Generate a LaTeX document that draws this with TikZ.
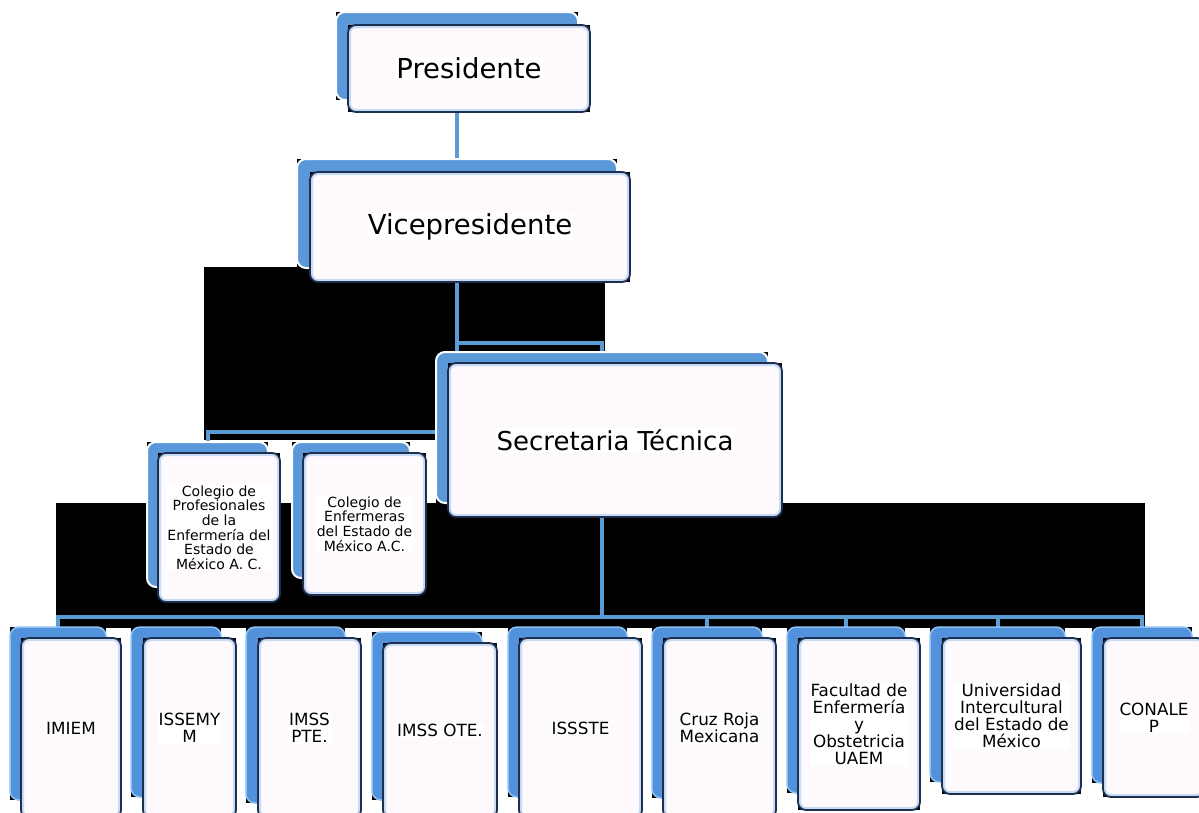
\documentclass[tikz,border=0pt]{standalone}
\usepackage{fontspec}
\setmainfont{DejaVu Sans}
\usetikzlibrary{fit}
\pgfdeclarelayer{bg}
\pgfsetlayers{bg,main}

\definecolor{orgblue}{HTML}{5B98DA}
\definecolor{linkblue}{HTML}{5B9BD5}
\definecolor{cardfill}{HTML}{FDF9FD}
\definecolor{cardedge}{HTML}{1E2F52}
\definecolor{glow}{HTML}{C6DBF4}
\definecolor{tabblue}{HTML}{5291DC}
\definecolor{tabedge}{HTML}{8CC2F4}

\newcommand{\headfont}{\fontsize{27.5}{30}\selectfont}
\newcommand{\secfont}{\fontsize{26}{29}\selectfont}
\newcommand{\colfont}{\fontsize{14}{14.6}\selectfont}
\newcommand{\tabfont}{\fontsize{16.8}{17}\selectfont}

\tikzset{
  darkrect/.style={fill=black, inner sep=0pt, outer sep=0pt},
  backcard/.style={fill=orgblue, draw=white, line width=2pt, rounded corners=9pt,
    inner sep=0pt, outer sep=0pt},
  backtab/.style={fill=tabblue, draw=tabedge, line width=1.5pt, rounded corners=9pt,
    inner sep=0pt, outer sep=0pt},
  card/.style={fill=cardfill, draw=cardedge, line width=1.8pt, rounded corners=8pt,
    inner sep=0pt, outer sep=0pt,
    path picture={\draw[glow, line width=6pt]
      (path picture bounding box.south west) rectangle (path picture bounding box.north east);}},
  lbl/.style={fill=white, inner sep=1pt, align=center, text=black},
  link/.style={draw=linkblue, line width=4pt},
}

% #1 name, #2 style of the rear card, #3 rear corners, #4 front corners, #5 font, #6 text
\newcommand{\orgcard}[6]{%
  \node[darkrect, fit={#3}] (#1-bs) {};
  \node[#2, fit={#3}] (#1-back) {};
  \node[darkrect, fit={#4}] (#1-fs) {};
  \node[card, fit={#4}] (#1) {};
  \node[lbl, font=#5] (#1-txt) at (#1.center) {#6};
}

\begin{document}
\begin{tikzpicture}[x=1pt, y=-1pt]
  \useasboundingbox (0,0) rectangle (1199,812);
  \clip (0,0) rectangle (1199,812);

  % upper levels
  \orgcard{pres}{backcard}{(336,12) (578,100)}{(348,25) (590,112)}{\headfont}{Presidente}
  \orgcard{vice}{backcard}{(297,159) (617,268)}{(310,172) (630,282)}{\headfont}{Vicepresidente}
  \orgcard{sec}{backcard}{(436,352) (768,503)}{(448,363) (782,517)}{\secfont}{Secretaria Técnica}
  \orgcard{col1}{backcard}{(147,442) (268,587)}{(158,453) (280,602)}{\colfont}%
    {Colegio de\\Profesionales\\de la\\Enfermería del\\Estado de\\México A. C.}
  \orgcard{col2}{backcard}{(292,442) (410,578)}{(303,453) (426,595)}{\colfont}%
    {Colegio de\\Enfermeras\\del Estado de\\México A.C.}

  % bottom row of institutions
  \orgcard{t1}{backtab}{(10,627) (106,800)}{(21,638) (121,818)}{\tabfont}{IMIEM}
  \orgcard{t2}{backtab}{(131,627) (221,797)}{(143,638) (236,818)}{\tabfont}{ISSEMY\\M}
  \orgcard{t3}{backtab}{(246,627) (345,803)}{(258,638) (361,818)}{\tabfont}{IMSS\\PTE.}
  \orgcard{t4}{backtab}{(372,632) (482,800)}{(383,643) (497,818)}{\tabfont}{IMSS OTE.}
  \orgcard{t5}{backtab}{(508,627) (627,797)}{(519,638) (642,818)}{\tabfont}{ISSSTE}
  \orgcard{t6}{backtab}{(652,627) (762,798)}{(663,638) (776,818)}{\tabfont}{Cruz Roja\\Mexicana}
  \orgcard{t7}{backtab}{(787,627) (905,793)}{(798,638) (920,810)}{\tabfont}%
    {Facultad de\\Enfermería\\y\\Obstetricia\\UAEM}
  \orgcard{t8}{backtab}{(930,627) (1065,782)}{(942,638) (1081,794)}{\tabfont}%
    {Universidad\\Intercultural\\del Estado de\\México}
  \orgcard{t9}{backtab}{(1092,627) (1192,783)}{(1103,638) (1205,797)}{\tabfont}{CONALE\\P}

  \begin{pgfonlayer}{bg}
    \fill[white] (0,0) rectangle (1199,812);
    % dark fields behind the connector areas
    \fill[black] (204,267) rectangle (605,440);
    \fill[black] (56,503) rectangle (1145,628);

    % connectors
    \draw[link] (pres-back.south) -- (vice-back.north);
    \draw[link] (vice-back.south) -- ++(0,75) -| (sec-back.north);
    \draw[link] (vice-back.south) -- ++(0,164) coordinate (vmid) -| (col1-back.north);
    \draw[link] (sec-back.south) -- ++(0,114) coordinate (hub);
    \draw[link] (hub) -| (t1-back.north);
    \foreach \t in {t6,t7,t8,t9}
      \draw[link] (hub) -| (\t-back.north);
  \end{pgfonlayer}
\end{tikzpicture}
\end{document}
